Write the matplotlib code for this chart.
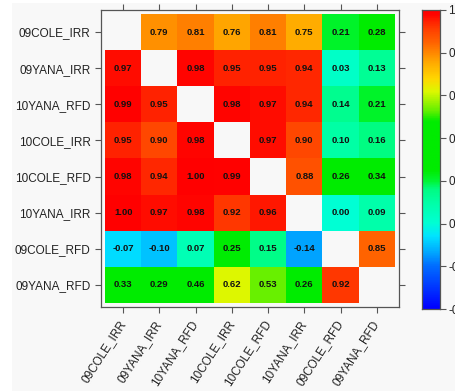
import numpy as np
import matplotlib
matplotlib.use("Agg")
import matplotlib.pyplot as plt
from matplotlib.colors import LinearSegmentedColormap, Normalize
from matplotlib.patches import Rectangle

plt.rcParams['font.family'] = ['Liberation Sans', 'DejaVu Sans']

# Environment labels (rows top-to-bottom, columns left-to-right)
row_labels = ["09COLE_IRR", "09YANA_IRR", "10YANA_RFD", "10COLE_IRR",
              "10COLE_RFD", "10YANA_IRR", "09COLE_RFD", "09YANA_RFD"]
col_labels = ["09COLE_IRR", "09YANA_IRR", "10YANA_RFD", "10COLE_IRR",
              "10COLE_RFD", "10YANA_IRR", "09COLE_RFD", "09YANA_RFD"]

nan = np.nan
# Pairwise correlations; diagonal left empty
corr_rows = [
    [nan, 0.79, 0.81, 0.76, 0.81, 0.75, 0.21, 0.28],
    [0.97, nan, 0.98, 0.95, 0.95, 0.94, 0.03, 0.13],
    [0.99, 0.95, nan, 0.98, 0.97, 0.94, 0.14, 0.21],
    [0.95, 0.90, 0.98, nan, 0.97, 0.90, 0.10, 0.16],
    [0.98, 0.94, 1.00, 0.99, nan, 0.88, 0.26, 0.34],
    [1.00, 0.97, 0.98, 0.92, 0.96, nan, 0.00, 0.09],
    [-0.07, -0.10, 0.07, 0.25, 0.15, -0.14, nan, 0.85],
    [0.33, 0.29, 0.46, 0.62, 0.53, 0.26, 0.92, nan],
]
corr = np.array(corr_rows, dtype=float)

colorbar_ticks = [1.0, 0.8, 0.6, 0.4, 0.2, 0.0, -0.2, -0.4]
vmin, vmax = -0.4, 1.0

# Rainbow-style palette: blue -> cyan -> green -> yellow -> orange -> red
anchors = [
    (-0.40, (0, 0, 255)),
    (-0.20, (0, 110, 255)),
    (-0.14, (0, 165, 255)),
    (-0.06, (0, 228, 255)),
    (0.00, (0, 255, 212)),
    (0.10, (0, 255, 165)),
    (0.16, (0, 252, 130)),
    (0.20, (0, 245, 50)),
    (0.25, (0, 236, 0)),
    (0.48, (0, 236, 0)),
    (0.53, (100, 240, 0)),
    (0.62, (220, 248, 0)),
    (0.68, (255, 215, 0)),
    (0.76, (255, 168, 0)),
    (0.81, (255, 130, 0)),
    (0.85, (255, 100, 0)),
    (0.90, (255, 72, 0)),
    (0.95, (255, 35, 0)),
    (0.98, (255, 5, 0)),
    (1.00, (255, 0, 0)),
]
cmap = LinearSegmentedColormap.from_list(
    "corr_rainbow",
    [((v - vmin) / (vmax - vmin), tuple(c / 255 for c in rgb)) for v, rgb in anchors],
)
norm = Normalize(vmin=vmin, vmax=vmax)

W, H = 456, 391
fig = plt.figure(figsize=(W / 100, H / 100), dpi=100, facecolor="#f8f8f8")
fig.patches.append(Rectangle((0, 0), 12 / W, 1, transform=fig.transFigure,
                             facecolor="white", edgecolor="none", zorder=-1))
fig.patches.append(Rectangle((0, 1 - 3 / H), 1, 3 / H, transform=fig.transFigure,
                             facecolor="white", edgecolor="none", zorder=-1))

ax = fig.add_axes([101 / W, (H - 307) / H, 298 / W, 297 / H])
ax.set_facecolor("#f8f8f8")

n = len(row_labels)
masked = np.ma.masked_invalid(corr)
ax.pcolormesh(np.arange(n + 1) - 0.5, np.arange(n + 1) - 0.5, masked,
              cmap=cmap, norm=norm, shading="flat")

for i in range(n):
    for j in range(n):
        v = corr[i, j]
        if np.isnan(v):
            continue
        ax.text(j, i, f"{v:.2f}", ha="center", va="center",
                fontsize=6.8, fontweight="bold", color="#111111")

pad = 4 / 36.25
ax.set_xlim(-0.5 - pad, n - 0.5 + pad)
ax.set_ylim(n - 0.5 + pad, -0.5 - pad)

ax.set_xticks(range(n))
ax.set_yticks(range(n))
ax.set_yticklabels(row_labels, fontsize=8.5, color="#222222")
ax.set_xticklabels(col_labels, fontsize=8.5, color="#222222",
                   rotation=57, ha="right", va="center", rotation_mode="anchor")
ax.tick_params(axis="both", direction="out", length=4.5, width=0.8,
               color="#555555", top=True, right=True,
               labeltop=False, labelright=False, pad=3)
ax.tick_params(axis="x", pad=6)
for s in ax.spines.values():
    s.set_color("#555555")
    s.set_linewidth(0.9)

# Colour key
cax = fig.add_axes([422 / W, (H - 309) / H, 18 / W, 299 / H])
grad = np.linspace(vmin, vmax, 400).reshape(-1, 1)
cax.imshow(grad, aspect="auto", cmap=cmap, norm=norm, origin="lower",
           extent=[0, 1, vmin, vmax])
cax.set_xticks([])
cax.set_ylim(vmin, vmax)
cax.yaxis.tick_right()
cax.set_yticks(colorbar_ticks)
cax.set_yticklabels([f"{t:.1f}" for t in colorbar_ticks], fontsize=8.5,
                    color="#222222")
cax.tick_params(axis="y", direction="out", length=4, width=0.8,
                color="#555555", pad=2)
for s in cax.spines.values():
    s.set_color("#555555")
    s.set_linewidth(0.9)

fig.savefig("out.png", dpi=100, facecolor=fig.get_facecolor())
